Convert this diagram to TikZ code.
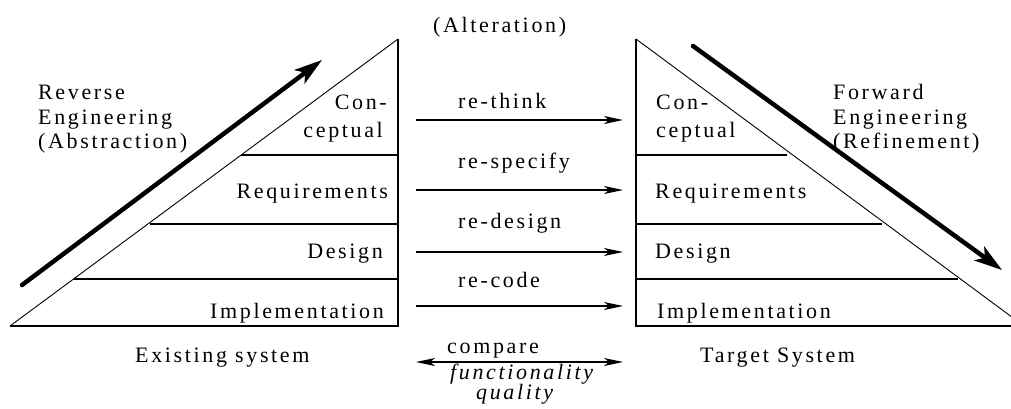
\documentclass[tikz,border=0pt]{standalone}
\usepackage{fontspec}
\setmainfont{LiberationSerif}[Extension=.ttf,UprightFont=*-Regular,ItalicFont=*-Italic,BoldFont=*-Bold,LetterSpace=12]
\usetikzlibrary{arrows.meta,calc}
\begin{document}
\begin{tikzpicture}[x=1pt,y=-1pt,
  font=\fontsize{22}{26}\selectfont,
  lbl/.style={inner sep=0pt},
  rlbl/.style={lbl,anchor=base east},
  llbl/.style={lbl,anchor=base west},
  outer/.style={line width=1.6pt},
  hyp/.style={line width=0.9pt},
  layer/.style={line width=1.4pt},
  thinarrow/.style={line width=1.4pt,-{Stealth[length=19pt,width=8pt,inset=5pt]}},
  bothway/.style={line width=1.4pt,{Stealth[length=19pt,width=8pt,inset=5pt]}-{Stealth[length=19pt,width=8pt,inset=5pt]}},
  bigarrow/.style={line width=4.5pt,line cap=round,-{Stealth[length=28pt,width=17pt,inset=7pt]}}]
\useasboundingbox (0,0) rectangle (1011,408);
\clip (0,0) rectangle (1011,408);
% left triangle
\coordinate (LA) at (398,39);
\coordinate (LB) at (10,326);
\coordinate (LC) at (398,326);
\draw[hyp] (LB) -- (LA);
\draw[outer] (LA) -- (LC) -- (LB);
\coordinate (L1) at (241,155); \coordinate (L1r) at (398,155);
\coordinate (L2) at (150,224); \coordinate (L2r) at (398,224);
\coordinate (L3) at (74,279);  \coordinate (L3r) at (398,279);
\draw[layer] (L1) -- (L1r);
\draw[layer] (L2) -- (L2r);
\draw[layer] (L3) -- (L3r);
% right triangle
\coordinate (RA) at (636,39);
\coordinate (RB) at (636,326);
\coordinate (RC) at (1024,326);
\draw[hyp] (RA) -- (RC);
\draw[outer] (RC) -- (RB) -- (RA);
\coordinate (R1) at (636,155); \coordinate (R1r) at (787,155);
\coordinate (R2) at (636,224); \coordinate (R2r) at (882,224);
\coordinate (R3) at (636,279); \coordinate (R3r) at (958,279);
\draw[layer] (R1) -- (R1r);
\draw[layer] (R2) -- (R2r);
\draw[layer] (R3) -- (R3r);
% left labels
\node[rlbl] (lcon) at (387,109) {Con-};
\node[rlbl] (lcep) at (383,137) {ceptual};
\node[rlbl] (lreq) at (388,198) {Requirements};
\node[rlbl] (ldes) at (383,258) {Design};
\node[rlbl] (limp) at (384,318) {Implementation};
% right labels
\node[llbl] (rcon) at (656,109) {Con-};
\node[llbl] (rcep) at (656,137) {ceptual};
\node[llbl] (rreq) at (655,198) {Requirements};
\node[llbl] (rdes) at (655,258) {Design};
\node[llbl] (rimp) at (657,318) {Implementation};
% side labels
\node[llbl] (rev1) at (38,99) {Reverse};
\node[llbl] (rev2) at (38,124) {Engineering};
\node[llbl] (rev3) at (38,148) {(Abstraction)};
\node[llbl] (fwd1) at (833,99) {Forward};
\node[llbl] (fwd2) at (833,124) {Engineering};
\node[llbl] (fwd3) at (833,148) {(Refinement)};
% big arrows
\coordinate (rs) at (22,285); \coordinate (re) at (322,60);
\draw[bigarrow] (rs) -- (re);
\coordinate (fs) at (693,46); \coordinate (fe) at (1002,270);
\draw[bigarrow] (fs) -- (fe);
% middle
\node[llbl] (alt) at (433,32) {(Alteration)};
\node[llbl] (think) at (458,108) {re-think};
\node[llbl] (spec) at (458,168) {re-specify};
\node[llbl] (desg) at (458,228) {re-design};
\node[llbl] (code) at (458,287) {re-code};
\coordinate (a1s) at (416,120); \coordinate (a1e) at (623,120);
\coordinate (a2s) at (416,190); \coordinate (a2e) at (623,190);
\coordinate (a3s) at (416,252); \coordinate (a3e) at (623,252);
\coordinate (a4s) at (416,306); \coordinate (a4e) at (623,306);
\draw[thinarrow] (a1s) -- (a1e);
\draw[thinarrow] (a2s) -- (a2e);
\draw[thinarrow] (a3s) -- (a3e);
\draw[thinarrow] (a4s) -- (a4e);
% bottom
\node[llbl] (exist) at (135,362) {Existing system};
\node[llbl] (target) at (700,362) {Target System};
\node[llbl] (cmp) at (447,353) {compare};
\coordinate (cs) at (416,362); \coordinate (ce) at (623,362);
\draw[bothway] (cs) -- (ce);
\node[llbl] (func) at (450,379) {\itshape functionality};
\node[llbl] (qual) at (476,399) {\itshape quality};
\end{tikzpicture}
\end{document}
